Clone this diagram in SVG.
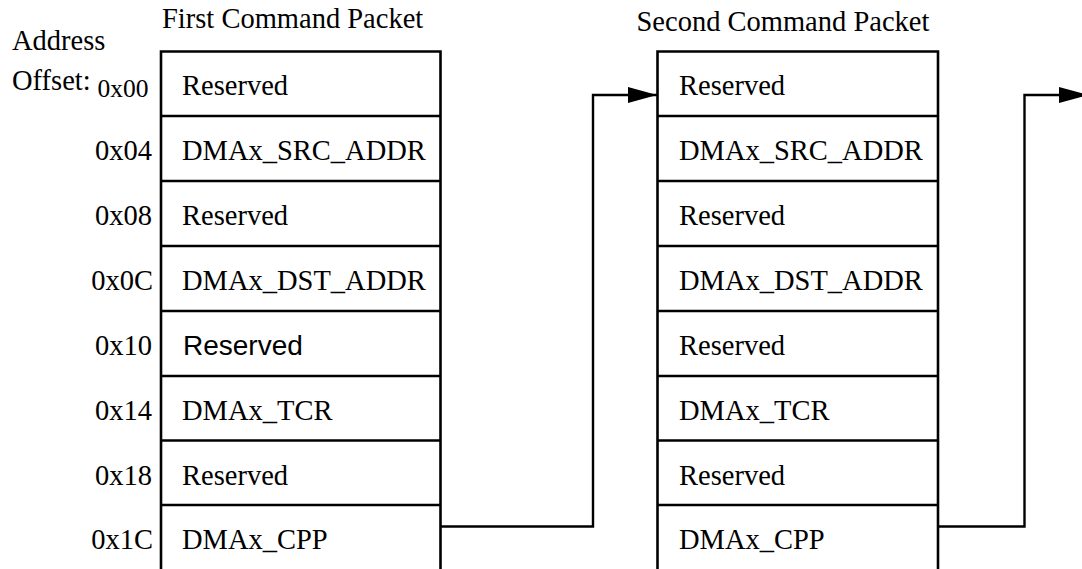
<svg xmlns="http://www.w3.org/2000/svg" width="1082" height="569" viewBox="0 0 1082 569">
  <style>
    .t { font-family: "Liberation Serif", "Times New Roman", serif; font-size: 28.5px; fill: #000; }
    .s { font-family: "Liberation Sans", Arial, sans-serif; font-size: 28px; fill: #000; }
    .off { text-anchor: end; }
    .box { fill: none; stroke: #000; stroke-width: 2.6; }
    .conn { fill: none; stroke: #000; stroke-width: 2.4; }
  </style>
  <defs>
    <marker id="arrow" viewBox="0 0 29 16" refX="29" refY="8" markerWidth="29" markerHeight="16" markerUnits="userSpaceOnUse" orient="auto">
      <path d="M0,0 L29,8 L0,16 z" fill="#000"/>
    </marker>
  </defs>
  <rect width="1082" height="569" fill="#fff"/>

  <g id="header-labels">
    <text class="t" x="12" y="50">Address</text>
    <text class="t" x="12" y="90">Offset:</text>
    <text class="t" x="162" y="28">First Command Packet</text>
    <text class="t" x="636.5" y="31">Second Command Packet</text>
  </g>

  <g id="offsets">
    <text class="t off" x="148.5" y="97" style="font-size:25.5px">0x00</text>
    <text class="t off" x="152" y="160">0x04</text>
    <text class="t off" x="152" y="225">0x08</text>
    <text class="t off" x="153" y="290">0x0C</text>
    <text class="t off" x="152" y="355">0x10</text>
    <text class="t off" x="152" y="420">0x14</text>
    <text class="t off" x="152" y="485">0x18</text>
    <text class="t off" x="153" y="549">0x1C</text>
  </g>

  <g id="packet1">
    <path class="box" d="M161,575 V51.5 H440.5 V575 M161,116 H440.5 M161,181 H440.5 M161,246 H440.5 M161,311 H440.5 M161,376 H440.5 M161,440.5 H440.5 M161,505 H440.5"/>
    <text class="t" x="182" y="95">Reserved</text>
    <text class="t" x="182" y="160">DMAx_SRC_ADDR</text>
    <text class="t" x="182" y="225">Reserved</text>
    <text class="t" x="182" y="290">DMAx_DST_ADDR</text>
    <text class="s" x="183" y="355">Reserved</text>
    <text class="t" x="182" y="420">DMAx_TCR</text>
    <text class="t" x="182" y="485">Reserved</text>
    <text class="t" x="182" y="549">DMAx_CPP</text>
  </g>

  <g id="packet2">
    <path class="box" d="M657.5,575 V51.5 H938 V575 M657.5,116 H938 M657.5,181 H938 M657.5,246 H938 M657.5,311 H938 M657.5,376 H938 M657.5,440.5 H938 M657.5,505 H938"/>
    <text class="t" x="679" y="95">Reserved</text>
    <text class="t" x="679" y="160">DMAx_SRC_ADDR</text>
    <text class="t" x="679" y="225">Reserved</text>
    <text class="t" x="679" y="290">DMAx_DST_ADDR</text>
    <text class="t" x="679" y="355">Reserved</text>
    <text class="t" x="679" y="420">DMAx_TCR</text>
    <text class="t" x="679" y="485">Reserved</text>
    <text class="t" x="679" y="549">DMAx_CPP</text>
  </g>

  <g id="connectors">
    <path class="conn" d="M440.5,526.5 H593 V95 H657" marker-end="url(#arrow)"/>
    <path class="conn" d="M938,526.5 H1024.5 V95 H1088" marker-end="url(#arrow)"/>
  </g>
</svg>
